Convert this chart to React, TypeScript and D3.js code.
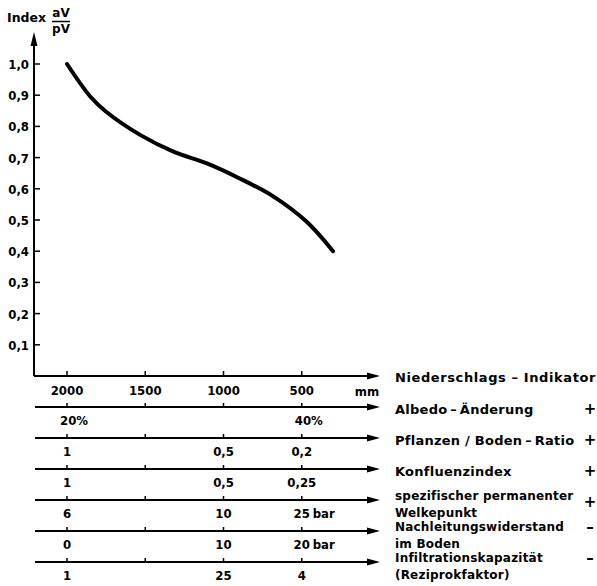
import React from "react";
import * as d3 from "d3";

// Niederschlag (mm) und Index aV/pV
const precipMm = [2000, 1850, 1750, 1530, 1320, 1110, 900, 680, 470, 300];
const indexValues = [1.0, 0.895, 0.847, 0.772, 0.719, 0.682, 0.634, 0.575, 0.495, 0.4];

const xTicks = [2000, 1500, 1000, 500];
const xTickLabels = ["2000", "1500", "1000", "500"];
const yTicks = [0.1, 0.2, 0.3, 0.4, 0.5, 0.6, 0.7, 0.8, 0.9, 1.0];

// Nebenskalen
const subNames = [
  ["Albedo\u2009–\u2009Änderung"],
  ["Pflanzen / Boden\u2009–\u2009Ratio"],
  ["Konfluenzindex"],
  ["spezifischer permanenter", "Welkepunkt"],
  ["Nachleitungswiderstand", "im Boden"],
  ["Infiltrationskapazität", "(Reziprokfaktor)"],
];
const subSigns = ["+", "+", "+", "+", "–", "–"];
const subTickLabels: [number, string][][] = [
  [[2000, "20%"], [500, "40%"]],
  [[2000, "1"], [1000, "0,5"], [500, "0,2"]],
  [[2000, "1"], [1000, "0,5"], [500, "0,25"]],
  [[2000, "6"], [1000, "10"], [500, "25 bar"]],
  [[2000, "0"], [1000, "10"], [500, "20 bar"]],
  [[2000, "1"], [1000, "25"], [500, "4"]],
];

const W = 597;
const H = 586;
const axisX0 = 34;
const axisX1 = 380;
const font = "DejaVu Sans, sans-serif";
const numFont = "DejaVu Sans Condensed, DejaVu Sans, sans-serif";

export default function App() {
  const x = d3.scaleLinear().domain([2000, 0]).range([67, 380]);
  const y = d3.scaleLinear().domain([0, 1]).range([376, 64]);
  const subY = d3.scaleLinear().domain([0, 1]).range([407, 438]);

  const line = d3
    .line<number>()
    .x((_, i) => x(precipMm[i]))
    .y((d) => y(d))
    .curve(d3.curveCatmullRom.alpha(0.5));

  const arrowRight = (xe: number, ye: number) =>
    `M${xe},${ye} L${xe - 13},${ye - 3.5} L${xe - 13},${ye + 3.5} Z`;

  return (
    <svg
      width={W}
      height={H}
      style={{ position: "absolute", left: 0, top: 0, background: "#fff" }}
      fontFamily={font}
      fontWeight="bold"
    >
      {/* Titel */}
      <text x={7} y={22} fontSize={12.5}>Index</text>
      <text x={61} y={17} fontSize={12} textAnchor="middle">aV</text>
      <line x1={52} x2={70} y1={21.5} y2={21.5} stroke="#000" strokeWidth={1.5} />
      <text x={61} y={33} fontSize={12} textAnchor="middle">pV</text>

      {/* y-Achse */}
      <line x1={axisX0} x2={axisX0} y1={y(0)} y2={42} stroke="#000" strokeWidth={2} />
      <path d={`M${axisX0},32 L${axisX0 - 3.5},46 L${axisX0 + 3.5},46 Z`} fill="#000" />
      {yTicks.map((t) => (
        <g key={t}>
          <line x1={axisX0} x2={axisX0 + 6} y1={y(t)} y2={y(t)} stroke="#000" strokeWidth={1.5} />
          <text x={29} y={y(t) + 5} fontSize={13} textAnchor="end" fontFamily={numFont}>
            {d3.format(".1f")(t).replace(".", ",")}
          </text>
        </g>
      ))}

      {/* x-Achse */}
      <line x1={axisX0} x2={axisX1 - 8} y1={y(0)} y2={y(0)} stroke="#000" strokeWidth={2} />
      <path d={arrowRight(axisX1, y(0))} fill="#000" />
      {xTicks.map((t, i) => (
        <g key={t}>
          <line x1={x(t)} x2={x(t)} y1={y(0)} y2={y(0) - 5} stroke="#000" strokeWidth={1.5} />
          <text x={x(t)} y={y(0) + 19} fontSize={13} textAnchor="middle" fontFamily={numFont}>
            {xTickLabels[i]}
          </text>
        </g>
      ))}
      <text x={367} y={y(0) + 20} fontSize={13} textAnchor="middle" fontFamily={numFont}>mm</text>
      <text x={395} y={y(0) + 6} fontSize={13} letterSpacing={0.6}>
        Niederschlags – Indikator
      </text>

      {/* Kurve */}
      <path d={line(indexValues) ?? ""} fill="none" stroke="#000" strokeWidth={4} strokeLinecap="round" />

      {/* Nebenskalen */}
      {subNames.map((names, k) => {
        const ly = subY(k);
        return (
          <g key={k}>
            <line x1={axisX0 + 1} x2={axisX1 - 8} y1={ly} y2={ly} stroke="#000" strokeWidth={2} />
            <path d={arrowRight(axisX1, ly)} fill="#000" />
            {xTicks.map((t) => (
              <line key={t} x1={x(t)} x2={x(t)} y1={ly} y2={ly - 4} stroke="#000" strokeWidth={1.5} />
            ))}
            {subTickLabels[k].map(([v, s]) => {
              const parts = s.split(" ");
              return (
                <g key={v}>
                  <text
                    x={x(v) + (parts[0].endsWith("%") ? 7 : 0)}
                    y={ly + 18}
                    fontSize={13}
                    textAnchor="middle"
                    fontFamily={numFont}
                  >
                    {parts[0]}
                  </text>
                  {parts[1] && (
                    <text x={x(v) + 11} y={ly + 18} fontSize={13} fontFamily={numFont}>
                      {parts[1]}
                    </text>
                  )}
                </g>
              );
            })}
            {names.length === 1 ? (
              <text x={395} y={ly + 7} fontSize={13} letterSpacing={0.25}>
                {names[0]}
              </text>
            ) : (
              names.map((n, j) => (
                <text key={j} x={395} y={ly + j * 17} fontSize={12} letterSpacing={0.2}>
                  {n}
                </text>
              ))
            )}
            <text
              x={590}
              y={ly + (names.length === 1 ? 7 : subSigns[k] === "+" ? 7 : 1)}
              fontSize={15}
              textAnchor="middle"
            >
              {subSigns[k]}
            </text>
          </g>
        );
      })}
    </svg>
  );
}
